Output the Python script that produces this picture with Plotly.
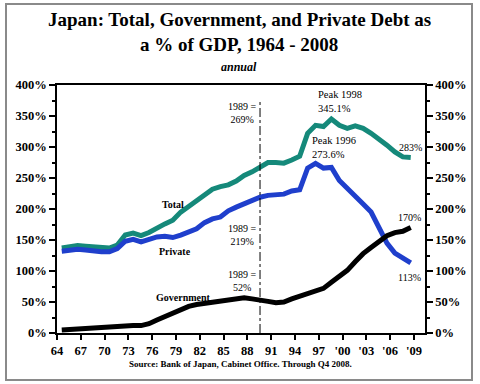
import plotly.graph_objects as go

# Data (annual, % of GDP), fiscal years 1964-2008
years = list(range(1964, 2009))
total = [137, 139, 141, 140, 139, 138, 137, 142, 158, 161, 157, 162, 170, 176, 182,
         195, 204, 214, 224, 232, 236, 239, 245, 254, 260, 268, 275, 275, 274, 279,
         285, 322, 335, 333, 345.1, 335, 330, 334, 330, 322, 313, 303, 292, 284, 283]
private = [132, 134, 135, 134, 132, 131, 131, 136, 148, 151, 147, 152, 155, 156, 154,
           158, 162, 168, 178, 184, 187, 197, 203, 209, 214, 219, 222, 224, 224, 229,
           231, 266, 273.6, 266, 267, 246, 234, 222, 208, 195, 170, 145, 129, 122, 113]
government = [5, 6, 7, 8, 9, 10, 10, 10, 11, 12, 12, 15, 21, 27, 32,
              38, 43, 46, 48, 50, 51, 52, 54, 57, 55, 52, 51, 49, 50, 55,
              59, 63, 68, 72, 82, 92, 101, 115, 128, 138, 148, 157, 162, 164, 170]

tick_years = list(range(1964, 2010, 3))
tick_labels = ["64", "67", "70", "73", "76", "79", "82", "85", "88", "91", "94", "97",
               "'00", "'03", "'06", "'09"]
y_ticks = [0, 50, 100, 150, 200, 250, 300, 350, 400]
y_labels = [f"{v}%" for v in y_ticks]

# values plotted at mid fiscal year
x_pos = [y + 0.6 for y in years]

SERIF = "Liberation Serif, Times New Roman, serif"
TEAL = "#15897a"
BLUE = "#1f3fcc"

fig = go.Figure()
fig.add_trace(go.Scatter(x=x_pos, y=total, mode="lines", line=dict(color=TEAL, width=5),
                         name="Total", showlegend=False))
fig.add_trace(go.Scatter(x=x_pos, y=private, mode="lines", line=dict(color=BLUE, width=5),
                         name="Private", showlegend=False))
fig.add_trace(go.Scatter(x=x_pos, y=government, mode="lines", line=dict(color="black", width=5),
                         name="Government", showlegend=False))
# invisible trace for the right axis
fig.add_trace(go.Scatter(x=[x_pos[0]], y=[0], yaxis="y2", mode="markers",
                         marker=dict(opacity=0), showlegend=False, hoverinfo="skip"))

axis_font = dict(family=SERIF, size=12.5, color="black", weight="bold")
fig.update_layout(
    width=480, height=384,
    margin=dict(l=57, r=55, t=85, b=51),
    paper_bgcolor="white", plot_bgcolor="white",
    xaxis=dict(range=[1964, 2010.4], tickvals=tick_years, ticktext=tick_labels,
               showgrid=False, zeroline=False, showline=True, linecolor="black",
               linewidth=2, mirror=True, ticks="outside", ticklen=5, tickwidth=1.5,
               tickcolor="black", tickfont=axis_font, fixedrange=True),
    yaxis=dict(range=[0, 400], tickvals=y_ticks, ticktext=y_labels, showgrid=False,
               zeroline=False, showline=True, linecolor="black", linewidth=1.5,
               ticks="outside", ticklen=6, tickwidth=1.5, tickcolor="black",
               tickfont=axis_font,
               minor=dict(ticks="outside", ticklen=3, dtick=25, tickcolor="black",
                          tickwidth=1.5, showgrid=False)),
    yaxis2=dict(range=[0, 400], tickvals=y_ticks, ticktext=y_labels, overlaying="y",
                side="right", showgrid=False, zeroline=False, showline=True,
                linecolor="black", linewidth=1.5, ticks="outside", ticklen=6,
                tickwidth=1.5, tickcolor="black", tickfont=axis_font,
                minor=dict(ticks="outside", ticklen=3, dtick=25, tickcolor="black",
                           tickwidth=1.5, showgrid=False)),
)

# dashed 1989 reference line
fig.add_shape(type="line", xref="x", yref="y", x0=1989.6, x1=1989.6, y0=0, y1=375,
              line=dict(color="black", width=1, dash="dashdot"))

# outer frame
fig.add_shape(type="rect", xref="paper", yref="paper",
              x0=(6 - 57) / 368, x1=(472 - 57) / 368,
              y0=(333 - 380) / 248, y1=(333 - 4) / 248,
              line=dict(color="#8a8a8a", width=2), layer="below")

# titles
def paper_text(text, px, py, size, bold=True, italic=False):
    t = text
    if bold:
        t = f"<b>{t}</b>"
    if italic:
        t = f"<i>{t}</i>"
    fig.add_annotation(text=t, xref="paper", yref="paper",
                       x=(px - 57) / 368, y=(333 - py) / 248,
                       showarrow=False, xanchor="center", yanchor="middle",
                       font=dict(family=SERIF, size=size, color="black"))

paper_text("Japan: Total, Government, and Private Debt as", 239, 20, 19)
paper_text("a % of GDP, 1964 - 2008", 239, 45, 19)
paper_text("annual", 239, 67, 12, bold=True, italic=True)
paper_text("Source: Bank of Japan, Cabinet Office. Through Q4 2008.", 240, 364, 9)

def data_text(text, x, y, size=10, bold=False, align="center", xanchor="center"):
    t = f"<b>{text}</b>" if bold else text
    fig.add_annotation(text=t, x=x, y=y, xref="x", yref="y", showarrow=False,
                       xanchor=xanchor, yanchor="middle", align=align,
                       font=dict(family=SERIF, size=size, color="black"))

data_text("Total", 1978.6, 208, size=10, bold=True)
data_text("Private", 1978.9, 131, size=10, bold=True)
data_text("Government", 1979.9, 58, size=10, bold=True)
data_text("1989 =<br>269%", 1987.4, 355, size=10)
data_text("1989 =<br>219%", 1987.4, 158, size=10)
data_text("1989 =<br>52%", 1987.4, 84, size=10)
data_text("Peak 1998<br>345.1%", 1996.6, 373, size=10.5, align="left", xanchor="left")
data_text("Peak 1996<br>273.6%", 1995.9, 300, size=10.5, align="left", xanchor="left")
data_text("283%", 2008.6, 300, size=10)
data_text("170%", 2008.4, 187, size=10)
data_text("113%", 2008.5, 90, size=10)

fig.write_html("out.html", config={"displayModeBar": False},
               post_script="document.body.style.margin='0';document.body.style.padding='0';")
